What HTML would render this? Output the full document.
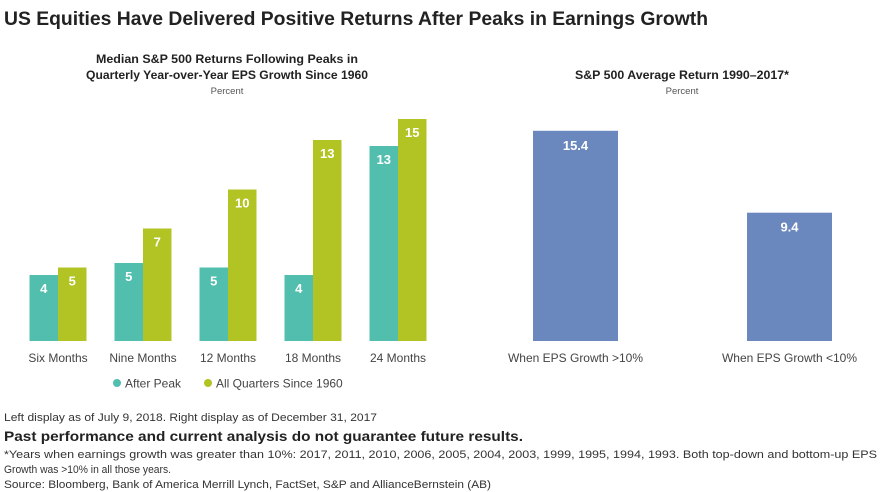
<!DOCTYPE html>
<html><head><meta charset="utf-8"><style>
html,body{margin:0;padding:0;background:#fff;}
svg{display:block;font-family:"Liberation Sans",sans-serif;}
</style></head><body>
<svg id="chart" width="880" height="492" viewBox="0 0 880 492">
<text x="4" y="25" font-size="19" font-weight="bold" fill="#222" textLength="704" lengthAdjust="spacingAndGlyphs">US Equities Have Delivered Positive Returns After Peaks in Earnings Growth</text>
<g text-anchor="middle" fill="#222">
<text x="227" y="63" font-size="11.5" font-weight="bold" textLength="262" lengthAdjust="spacingAndGlyphs">Median S&amp;P 500 Returns Following Peaks in</text>
<text x="227" y="79" font-size="11.5" font-weight="bold" textLength="282" lengthAdjust="spacingAndGlyphs">Quarterly Year-over-Year EPS Growth Since 1960</text>
<text x="227" y="94" font-size="9.5" fill="#555">Percent</text>
</g>
<g text-anchor="middle" fill="#222">
<text x="682" y="79" font-size="11.5" font-weight="bold" textLength="214" lengthAdjust="spacingAndGlyphs">S&amp;P 500 Average Return 1990–2017*</text>
<text x="682" y="94" font-size="9.5" fill="#555">Percent</text>
</g>
<g id="left"></g>
<g id="right"></g>
<g font-size="12" fill="#444">
<g><circle cx="117" cy="383" r="4" fill="#52bfae"/><text x="125" y="387.5">After Peak</text></g>
<g><circle cx="208" cy="383" r="4" fill="#b1c424"/><text x="216" y="387.5">All Quarters Since 1960</text></g>
</g>
<g fill="#333">
<text x="4" y="421" font-size="11" textLength="373" lengthAdjust="spacingAndGlyphs">Left display as of July 9, 2018. Right display as of December 31, 2017</text>
<text x="4" y="441" font-size="14" font-weight="bold" fill="#222" textLength="519" lengthAdjust="spacingAndGlyphs">Past performance and current analysis do not guarantee future results.</text>
<text x="4" y="458" font-size="11" textLength="873" lengthAdjust="spacingAndGlyphs">*Years when earnings growth was greater than 10%: 2017, 2011, 2010, 2006, 2005, 2004, 2003, 1999, 1995, 1994, 1993. Both top-down and bottom-up EPS</text>
<text x="4" y="473" font-size="11" textLength="167" lengthAdjust="spacingAndGlyphs">Growth was &gt;10% in all those years.</text>
<text x="4" y="488" font-size="11" textLength="487" lengthAdjust="spacingAndGlyphs">Source: Bloomberg, Bank of America Merrill Lynch, FactSet, S&amp;P and AllianceBernstein (AB)</text>
</g>
</svg>
<script>
const categories = ["Six Months","Nine Months","12 Months","18 Months","24 Months"];
const afterPeak = [4.4, 5.2, 4.9, 4.4, 13.0];
const allQuarters = [4.9, 7.5, 10.1, 13.4, 14.8];
const afterPeakLabels = ["4","5","5","4","13"];
const allQuartersLabels = ["5","7","10","13","15"];
const rightCategories = ["When EPS Growth >10%","When EPS Growth <10%"];
const rightValues = [15.4, 9.4];

const NS = "http://www.w3.org/2000/svg";
const base = 341;
function yL(v){ return base - v*15; }
function xL(i){ return 29.5 + i*85; }
function yR(v){ return base - v*13.65; }
function xR(i){ return 533 + i*214; }
function mk(tag, attrs, parent){ const e=document.createElementNS(NS,tag); for(const k in attrs) e.setAttribute(k,attrs[k]); parent.appendChild(e); return e; }

const left = document.getElementById('left');
categories.forEach((c,i)=>{
  const x = xL(i), w = 28.5;
  const b1 = mk('rect',{x:x,y:yL(afterPeak[i]),width:w,height:base-yL(afterPeak[i]),fill:'#52bfae'},left);
  
  
  const t1 = mk('text',{x:x+w/2,y:yL(afterPeak[i])+18,'text-anchor':'middle','font-size':13,'font-weight':'bold',fill:'#fff'},left);
  t1.textContent = afterPeakLabels[i];
  
  
  const b2 = mk('rect',{x:x+w,y:yL(allQuarters[i]),width:w,height:base-yL(allQuarters[i]),fill:'#b1c424'},left);
  
  
  const t2 = mk('text',{x:x+w*1.5,y:yL(allQuarters[i])+18,'text-anchor':'middle','font-size':13,'font-weight':'bold',fill:'#fff'},left);
  t2.textContent = allQuartersLabels[i];
  
  
  const cl = mk('text',{x:x+w,y:362,'text-anchor':'middle','font-size':12,fill:'#444'},left);
  cl.textContent = c;
  
  
});

const right = document.getElementById('right');
rightCategories.forEach((c,i)=>{
  const x = xR(i), w = 85;
  const b = mk('rect',{x:x,y:yR(rightValues[i]),width:w,height:base-yR(rightValues[i]),fill:'#6a88bd'},right);
  
  
  const t = mk('text',{x:x+w/2,y:yR(rightValues[i])+19,'text-anchor':'middle','font-size':13,'font-weight':'bold',fill:'#fff'},right);
  t.textContent = rightValues[i].toFixed(1);
  
  
  const cl = mk('text',{x:x+w/2,y:362,'text-anchor':'middle','font-size':12,fill:'#444'},right);
  cl.textContent = c;
  
  
});
</script>
</body></html>
